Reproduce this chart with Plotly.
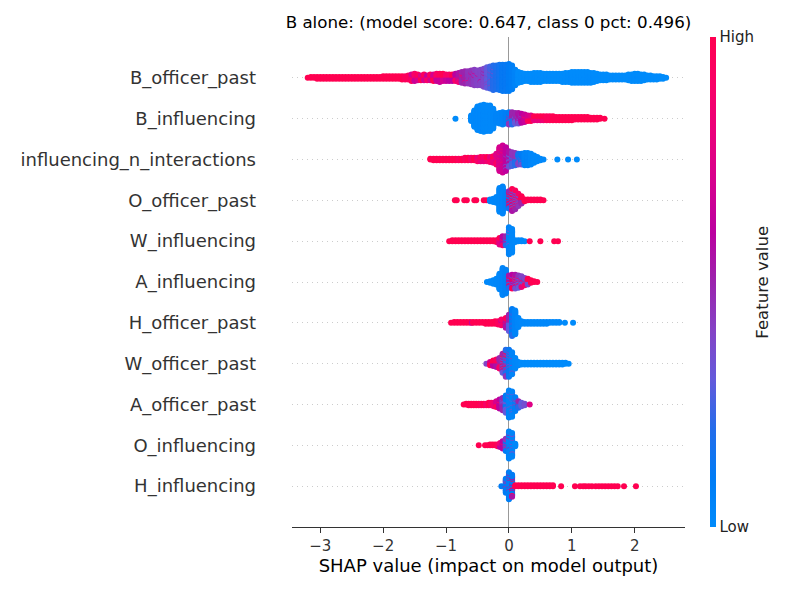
import math
import plotly.graph_objects as go

# SHAP beeswarm.
# each row: (shap value, number of points at that value, feature value 0=low .. 1=high)
FEATURES = ["B_officer_past", "B_influencing", "influencing_n_interactions", "O_officer_past",
            "W_influencing", "A_influencing", "H_officer_past", "W_officer_past",
            "A_officer_past", "O_influencing", "H_influencing"]

B_OFFICER_PAST = [
    (-3.20, 1, 1.0), (-3.15, 2, 1.0), (-3.10, 2, 1.0), (-3.05, 3, 1.0), (-3.00, 3, 1.0), (-2.95, 3, 1.0),
    (-2.90, 3, 1.0), (-2.85, 3, 1.0), (-2.80, 3, 1.0), (-2.75, 3, 1.0), (-2.70, 3, 1.0), (-2.65, 3, 1.0),
    (-2.60, 3, 1.0), (-2.55, 3, 1.0), (-2.50, 3, 1.0), (-2.45, 3, 1.0), (-2.40, 3, 1.0), (-2.35, 3, 1.0),
    (-2.30, 3, 1.0), (-2.25, 3, 1.0), (-2.20, 3, 1.0), (-2.15, 3, 1.0), (-2.10, 3, 1.0), (-2.05, 3, 1.0),
    (-2.00, 4, 1.0), (-1.95, 4, 1.0), (-1.90, 4, 1.0), (-1.85, 4, 1.0), (-1.80, 4, 1.0), (-1.75, 4, 1.0),
    (-1.70, 5, 1.0), (-1.65, 5, 0.95), (-1.60, 6, 0.95),
    (-1.55, 6, 0.95), (-1.55, 3, 0.7), (-1.50, 6, 0.9), (-1.50, 4, 0.65), (-1.45, 5, 0.95), (-1.45, 3, 0.7),
    (-1.40, 5, 1.0), (-1.40, 2, 0.75), (-1.35, 5, 0.95), (-1.35, 3, 0.7), (-1.30, 4, 0.9), (-1.30, 3, 0.65),
    (-1.25, 5, 0.95), (-1.25, 3, 0.7), (-1.20, 5, 1.0), (-1.20, 4, 0.7), (-1.15, 5, 0.9), (-1.15, 5, 0.65),
    (-1.10, 5, 0.95), (-1.10, 6, 0.65), (-1.05, 5, 1.0), (-1.05, 5, 0.7), (-1.00, 4, 0.9), (-1.00, 5, 0.65),
    (-0.95, 4, 0.9), (-0.95, 5, 0.6), (-0.90, 4, 1.0), (-0.90, 5, 0.6), (-0.85, 4, 0.9), (-0.85, 6, 0.6),
    (-0.80, 3, 0.85), (-0.80, 9, 0.55), (-0.75, 3, 0.85), (-0.75, 11, 0.5), (-0.70, 2, 0.8), (-0.70, 14, 0.5),
    (-0.65, 2, 0.8), (-0.65, 14, 0.45), (-0.60, 2, 0.7), (-0.60, 16, 0.45), (-0.55, 2, 0.7), (-0.55, 18, 0.42),
    (-0.50, 1, 0.7), (-0.50, 18, 0.4), (-0.45, 1, 0.65), (-0.45, 19, 0.4), (-0.40, 20, 0.38), (-0.40, 3, 0.5),
    (-0.35, 22, 0.3), (-0.35, 4, 0.4), (-0.30, 24, 0.25), (-0.30, 4, 0.4), (-0.25, 28, 0.2), (-0.25, 3, 0.35),
    (-0.20, 30, 0.18), (-0.15, 32, 0.15), (-0.10, 33, 0.12), (-0.05, 33, 0.12), (0.00, 34, 0.1),
    (0.05, 30, 0.08), (0.10, 20, 0.05),
    (0.15, 14, 0.0), (0.20, 12, 0.0), (0.25, 10, 0.0), (0.30, 10, 0.0), (0.35, 11, 0.0), (0.40, 12, 0.0),
    (0.45, 12, 0.0), (0.50, 12, 0.0), (0.55, 10, 0.0), (0.60, 10, 0.0), (0.65, 10, 0.0), (0.70, 10, 0.0),
    (0.75, 10, 0.0), (0.80, 10, 0.0), (0.85, 11, 0.0), (0.90, 12, 0.0), (0.95, 12, 0.0), (1.00, 14, 0.0),
    (1.05, 14, 0.0), (1.10, 14, 0.0), (1.15, 14, 0.0), (1.20, 14, 0.0), (1.25, 14, 0.0), (1.30, 13, 0.0),
    (1.35, 12, 0.0), (1.40, 10, 0.0), (1.45, 8, 0.0), (1.50, 8, 0.0), (1.55, 8, 0.0), (1.60, 6, 0.0),
    (1.65, 6, 0.0), (1.70, 6, 0.0), (1.75, 6, 0.0), (1.80, 6, 0.0), (1.85, 6, 0.0), (1.90, 8, 0.0),
    (1.95, 9, 0.0), (2.00, 10, 0.0), (2.05, 10, 0.0), (2.10, 9, 0.0), (2.15, 8, 0.0), (2.20, 6, 0.0),
    (2.25, 6, 0.0), (2.30, 5, 0.0), (2.35, 5, 0.0), (2.40, 4, 0.0), (2.45, 3, 0.0), (2.50, 1, 0.0),
]

B_INFLUENCING = [
    (-0.85, 1, 0.0),
    (-0.60, 8, 0.02), (-0.55, 21, 0.02), (-0.50, 30, 0.02), (-0.45, 32, 0.02), (-0.40, 34, 0.02),
    (-0.35, 32, 0.02), (-0.30, 32, 0.02), (-0.25, 25, 0.03), (-0.20, 12, 0.05), (-0.15, 14, 0.05),
    (-0.10, 16, 0.06), (-0.05, 14, 0.08),
    (0.00, 10, 0.1), (0.00, 6, 0.45), (0.05, 8, 0.2), (0.05, 8, 0.5), (0.10, 6, 0.3), (0.10, 8, 0.5),
    (0.15, 4, 0.35), (0.15, 10, 0.55), (0.20, 3, 0.4), (0.20, 9, 0.6), (0.25, 8, 0.65), (0.25, 2, 0.9),
    (0.30, 6, 0.7), (0.30, 2, 0.95), (0.35, 5, 0.75), (0.35, 3, 1.0), (0.40, 3, 0.8), (0.40, 3, 1.0),
    (0.45, 3, 0.8), (0.45, 3, 1.0), (0.50, 2, 0.8), (0.50, 4, 1.0), (0.55, 2, 0.85), (0.55, 4, 1.0),
    (0.60, 6, 0.95), (0.65, 6, 0.95), (0.70, 6, 1.0), (0.75, 5, 1.0), (0.80, 5, 1.0), (0.85, 5, 1.0),
    (0.90, 5, 1.0), (0.95, 5, 1.0), (1.00, 5, 1.0), (1.05, 4, 1.0), (1.10, 4, 1.0), (1.15, 4, 1.0),
    (1.20, 4, 1.0), (1.25, 4, 1.0), (1.30, 3, 1.0), (1.35, 3, 1.0), (1.40, 3, 1.0), (1.45, 2, 1.0),
    (1.52, 1, 1.0),
]

INFLUENCING_N_INTERACTIONS = [
    (-1.25, 2, 1.0), (-1.20, 3, 1.0), (-1.15, 3, 1.0), (-1.10, 3, 1.0), (-1.05, 3, 1.0), (-1.00, 3, 1.0),
    (-0.95, 3, 1.0), (-0.90, 3, 1.0), (-0.85, 3, 1.0), (-0.80, 3, 0.95), (-0.75, 3, 1.0), (-0.70, 4, 0.95),
    (-0.65, 4, 1.0), (-0.60, 4, 0.9), (-0.55, 4, 1.0), (-0.50, 3, 0.9), (-0.50, 2, 0.8), (-0.45, 4, 0.95),
    (-0.45, 2, 0.8), (-0.40, 4, 0.9), (-0.40, 2, 0.8), (-0.35, 3, 1.0), (-0.35, 3, 0.85), (-0.30, 4, 0.9),
    (-0.30, 3, 0.8), (-0.25, 4, 0.95), (-0.25, 5, 0.8), (-0.20, 6, 0.9), (-0.20, 8, 0.75),
    (-0.15, 6, 0.85), (-0.15, 24, 0.7), (-0.10, 4, 0.85), (-0.10, 30, 0.68), (-0.05, 26, 0.62),
    (-0.05, 4, 0.4), (0.00, 12, 0.55), (0.00, 8, 0.35), (0.05, 10, 0.45), (0.05, 8, 0.25),
    (0.10, 8, 0.45), (0.10, 8, 0.2), (0.15, 6, 0.4), (0.15, 8, 0.15), (0.20, 4, 0.35), (0.20, 10, 0.1),
    (0.25, 16, 0.05), (0.30, 16, 0.05), (0.35, 14, 0.03), (0.40, 10, 0.02), (0.45, 6, 0.02),
    (0.50, 3, 0.02), (0.55, 1, 0.02), (0.77, 1, 0.0), (0.94, 1, 0.0), (1.08, 1, 0.0),
]

O_OFFICER_PAST = [
    (-0.86, 1, 1.0), (-0.83, 1, 1.0), (-0.71, 1, 1.0), (-0.67, 1, 1.0), (-0.55, 1, 1.0), (-0.52, 1, 1.0),
    (-0.40, 1, 1.0), (-0.36, 1, 1.0),
    (-0.30, 3, 0.03), (-0.25, 5, 0.03), (-0.20, 8, 0.03), (-0.15, 30, 0.03), (-0.10, 34, 0.04),
    (-0.05, 20, 0.06),
    (0.00, 6, 1.0), (0.00, 8, 0.5), (0.00, 8, 0.15), (0.05, 10, 1.0), (0.05, 10, 0.55), (0.05, 8, 0.3),
    (0.10, 8, 0.95), (0.10, 8, 0.5), (0.10, 8, 0.3), (0.15, 6, 0.9), (0.15, 6, 0.45), (0.15, 4, 0.3),
    (0.20, 5, 1.0), (0.20, 5, 0.5), (0.25, 3, 1.0), (0.30, 2, 1.0), (0.35, 2, 1.0), (0.40, 2, 1.0),
    (0.45, 2, 1.0), (0.50, 2, 1.0), (0.55, 1, 1.0),
]

W_INFLUENCING = [
    (-0.95, 1, 1.0), (-0.90, 2, 1.0), (-0.85, 2, 1.0), (-0.80, 2, 1.0), (-0.75, 2, 1.0), (-0.70, 2, 1.0),
    (-0.65, 2, 1.0), (-0.60, 2, 1.0), (-0.55, 2, 1.0), (-0.50, 2, 1.0), (-0.45, 2, 1.0), (-0.40, 2, 1.0),
    (-0.35, 2, 1.0), (-0.30, 2, 1.0), (-0.25, 2, 1.0), (-0.20, 3, 1.0), (-0.15, 6, 0.75), (-0.15, 3, 1.0),
    (-0.10, 8, 0.6), (-0.10, 4, 0.9), (-0.05, 8, 0.5), (-0.05, 4, 0.2), (0.00, 30, 0.05), (0.00, 4, 0.3),
    (0.05, 30, 0.03), (0.10, 3, 0.02), (0.15, 2, 0.02), (0.20, 2, 0.02), (0.25, 1, 0.02),
    (0.33, 1, 1.0), (0.50, 1, 1.0), (0.72, 1, 1.0), (0.78, 1, 1.0),
]

A_INFLUENCING = [
    (-0.35, 1, 0.02), (-0.30, 3, 0.02), (-0.25, 5, 0.02), (-0.20, 8, 0.03), (-0.15, 20, 0.03),
    (-0.10, 34, 0.04), (-0.05, 30, 0.06),
    (0.00, 6, 0.55), (0.00, 4, 1.0), (0.00, 6, 0.2), (0.05, 8, 0.6), (0.05, 5, 1.0), (0.05, 5, 0.3),
    (0.10, 7, 0.55), (0.10, 5, 0.95), (0.10, 6, 0.35), (0.15, 6, 0.45), (0.15, 4, 0.9), (0.15, 6, 0.3),
    (0.20, 6, 0.4), (0.20, 4, 0.8), (0.20, 4, 0.25), (0.25, 5, 0.4), (0.25, 3, 0.9), (0.25, 2, 0.2),
    (0.30, 4, 0.35), (0.30, 4, 1.0), (0.35, 4, 1.0), (0.40, 2, 1.0), (0.45, 1, 1.0),
]

H_OFFICER_PAST = [
    (-0.92, 1, 1.0), (-0.87, 2, 1.0), (-0.82, 2, 1.0), (-0.77, 2, 1.0), (-0.72, 2, 1.0), (-0.67, 2, 1.0),
    (-0.62, 2, 1.0), (-0.59, 1, 0.65), (-0.57, 2, 1.0), (-0.52, 2, 1.0), (-0.47, 2, 1.0), (-0.42, 2, 1.0),
    (-0.37, 3, 1.0), (-0.32, 3, 1.0), (-0.27, 3, 1.0), (-0.22, 4, 1.0), (-0.17, 5, 0.95),
    (-0.12, 6, 0.9), (-0.12, 2, 0.6), (-0.05, 5, 0.95), (-0.05, 8, 0.55), (0.00, 10, 0.5),
    (0.00, 11, 0.3), (0.05, 14, 0.2), (0.05, 20, 0.1), (0.10, 30, 0.05), (0.15, 12, 0.03),
    (0.20, 4, 0.02), (0.25, 3, 0.02), (0.30, 3, 0.02), (0.35, 3, 0.02), (0.40, 3, 0.02), (0.45, 3, 0.02),
    (0.50, 3, 0.02), (0.55, 3, 0.02), (0.60, 3, 0.02), (0.65, 2, 0.02), (0.70, 2, 0.02), (0.75, 2, 0.02),
    (0.80, 2, 0.02), (0.89, 1, 0.0), (1.02, 1, 0.0),
]

W_OFFICER_PAST = [
    (-0.36, 1, 0.4), (-0.30, 3, 1.0), (-0.30, 2, 0.7), (-0.25, 4, 1.0), (-0.25, 4, 0.6), (-0.20, 5, 0.95),
    (-0.20, 5, 0.55), (-0.15, 6, 0.9), (-0.15, 8, 0.5), (-0.10, 6, 1.0), (-0.10, 10, 0.5), (-0.10, 8, 0.3),
    (-0.05, 4, 1.0), (-0.05, 14, 0.45), (-0.05, 16, 0.2), (0.00, 6, 0.4), (0.00, 28, 0.12),
    (0.05, 4, 0.4), (0.05, 24, 0.05), (0.10, 14, 0.03), (0.15, 5, 0.02),
    (0.20, 3, 0.0), (0.25, 3, 0.0), (0.30, 3, 0.0), (0.35, 3, 0.0), (0.40, 3, 0.0), (0.45, 3, 0.0),
    (0.50, 3, 0.0), (0.55, 3, 0.0), (0.60, 3, 0.0), (0.65, 3, 0.0), (0.70, 3, 0.0), (0.75, 3, 0.0),
    (0.80, 3, 0.0), (0.85, 3, 0.0), (0.90, 2, 0.0), (0.95, 1, 0.0),
]

A_OFFICER_PAST = [
    (-0.72, 1, 1.0), (-0.68, 2, 1.0), (-0.64, 3, 1.0), (-0.60, 3, 1.0), (-0.56, 3, 1.0), (-0.52, 3, 1.0),
    (-0.48, 3, 1.0), (-0.44, 3, 0.95), (-0.40, 3, 1.0), (-0.36, 3, 0.9), (-0.32, 4, 1.0), (-0.28, 4, 0.9),
    (-0.24, 5, 0.85), (-0.20, 5, 0.7), (-0.20, 3, 0.95), (-0.15, 10, 0.6), (-0.15, 2, 0.9),
    (-0.10, 12, 0.5), (-0.10, 4, 0.3), (-0.05, 10, 0.3), (-0.05, 12, 0.1), (0.00, 30, 0.05),
    (0.00, 4, 0.35), (0.05, 26, 0.05), (0.05, 6, 0.3), (0.10, 14, 0.08), (0.10, 4, 0.4),
    (0.15, 6, 0.2), (0.15, 3, 0.5), (0.20, 5, 0.3), (0.25, 3, 0.35), (0.33, 1, 0.75),
]

O_INFLUENCING = [
    (-0.48, 1, 1.0), (-0.38, 1, 1.0), (-0.34, 1, 1.0), (-0.30, 2, 1.0), (-0.26, 2, 1.0), (-0.22, 2, 1.0),
    (-0.18, 3, 0.95), (-0.14, 4, 0.85), (-0.14, 2, 0.6), (-0.10, 8, 0.6), (-0.10, 2, 0.9),
    (-0.05, 10, 0.45), (-0.05, 6, 0.1), (0.00, 30, 0.05), (0.00, 4, 0.5), (0.05, 24, 0.05),
    (0.05, 6, 0.35), (0.10, 4, 0.03),
]

H_INFLUENCING = [
    (-0.12, 1, 0.1), (-0.05, 14, 0.1), (-0.05, 4, 0.45), (0.00, 28, 0.08), (0.00, 6, 0.5),
    (0.05, 18, 0.1), (0.05, 6, 0.55), (0.05, 4, 1.0),
    (0.10, 2, 1.0), (0.15, 2, 1.0), (0.20, 2, 1.0), (0.25, 2, 1.0), (0.30, 2, 1.0), (0.35, 2, 1.0),
    (0.40, 2, 1.0), (0.45, 2, 1.0), (0.50, 2, 1.0), (0.55, 2, 1.0), (0.60, 2, 1.0), (0.65, 2, 1.0),
    (0.70, 2, 1.0), (0.83, 1, 1.0), (1.05, 1, 1.0), (1.13, 1, 1.0), (1.18, 1, 1.0), (1.22, 1, 1.0),
    (1.27, 1, 1.0), (1.32, 1, 1.0), (1.38, 1, 1.0), (1.43, 1, 1.0), (1.48, 1, 1.0), (1.53, 1, 1.0),
    (1.58, 1, 1.0), (1.63, 1, 1.0), (1.68, 1, 1.0), (1.73, 1, 1.0), (1.83, 1, 1.0), (2.02, 1, 1.0),
]

ROWS = [B_OFFICER_PAST, B_INFLUENCING, INFLUENCING_N_INTERACTIONS, O_OFFICER_PAST, W_INFLUENCING,
        A_INFLUENCING, H_OFFICER_PAST, W_OFFICER_PAST, A_OFFICER_PAST, O_INFLUENCING, H_INFLUENCING]

TITLE = "B alone: (model score: 0.647, class 0 pct: 0.496)"


def lch_to_rgb(l, c, h):
    # same red-blue map shap uses (interpolated in LCH)
    a, b = c * math.cos(h), c * math.sin(h)
    fy = (l + 16) / 116
    fx, fz = fy + a / 500, fy - b / 200

    def finv(t):
        return t ** 3 if t > 6 / 29 else 3 * (6 / 29) ** 2 * (t - 4 / 29)

    x, y, z = 0.95047 * finv(fx), finv(fy), 1.08883 * finv(fz)
    lin = (3.2406 * x - 1.5372 * y - 0.4986 * z,
           -0.9689 * x + 1.8758 * y + 0.0415 * z,
           0.0557 * x - 0.2040 * y + 1.0570 * z)

    def gamma(u):
        u = min(max(u, 0.0), 1.0)
        return 1.055 * u ** (1 / 2.4) - 0.055 if u > 0.0031308 else 12.92 * u

    return "rgb(%d,%d,%d)" % tuple(round(255 * gamma(u)) for u in lin)


def red_blue(steps=11):
    scale = []
    for i in range(steps):
        t = i / (steps - 1)
        l = 54 - 28 * t if t <= 0.5 else 40 + 28 * (t - 0.5)
        c = 70 + 20 * t
        h = 4.6588 + (0.35470565 + 2 * math.pi - 4.6588) * t
        scale.append([t, lch_to_rgb(l, c, h)])
    return scale


def beeswarm(bins, row, row_height=0.4):
    # stack points that share a shap value alternately above/below the row line
    groups = {}
    for shap_val, count, feat_val in bins:
        groups.setdefault(shap_val, []).append((count, feat_val))
    xs, offs, cs = [], [], []
    for shap_val, parts in groups.items():
        stack = sorted(((j + 0.5) / n, v) for n, v in parts for j in range(n))
        for layer, (_, v) in enumerate(stack):
            xs.append(shap_val)
            offs.append(math.ceil(layer / 2) * ((layer % 2) * 2 - 1))
            cs.append(v)
    k = 0.9 * row_height / max(o + 1 for o in offs)
    return xs, [row + o * k for o in offs], cs


all_x, all_y, all_c = [], [], []
n_rows = len(FEATURES)
for i, bins in enumerate(ROWS):
    xs, ys, cs = beeswarm(bins, n_rows - 1 - i)
    all_x += xs
    all_y += ys
    all_c += cs

fig = go.Figure(go.Scatter(
    x=all_x, y=all_y, mode="markers", hoverinfo="skip",
    marker=dict(
        size=6, color=all_c, colorscale=red_blue(), cmin=0, cmax=1, line=dict(width=0),
        showscale=True,
        colorbar=dict(
            x=1.0625, xanchor="left", xpad=0, y=0.5, yanchor="middle", ypad=0, len=1, thickness=6,
            outlinewidth=0, tickvals=[0, 1], ticktext=["Low", "High"], ticks="",
            tickfont=dict(size=15, color="#222222"),
        ),
    ),
))

# page body has an 8px margin, so the figure is 8px smaller and the margins shifted
fig.update_layout(
    width=792, height=582,
    margin=dict(l=277, r=115, t=29, b=63),
    paper_bgcolor="white", plot_bgcolor="white",
    font=dict(family="DejaVu Sans", color="#333333"),
    title=dict(text=TITLE, x=0.5, xref="paper", xanchor="center", y=1 - 14 / 582, yanchor="middle",
               font=dict(size=16.7, color="black")),
    showlegend=False,
    annotations=[dict(text="Feature value", textangle=-90, xref="paper", yref="paper",
                      x=(763 - 285) / 400, y=0.5, xanchor="center", yanchor="middle", showarrow=False,
                      font=dict(size=16.5, color="#222222"))],
)
fig.update_xaxes(
    range=[-3.45, 2.8], tickvals=[-3, -2, -1, 0, 1, 2], ticks="outside", ticklen=5, tickwidth=1,
    tickcolor="#333333", showline=True, linecolor="#333333", linewidth=1, showgrid=False,
    zeroline=True, zerolinecolor="#999999", zerolinewidth=1.4, tickfont=dict(size=15),
    title=dict(text="SHAP value (impact on model output)", font=dict(size=18, color="black"), standoff=3),
)
fig.update_yaxes(
    range=[-1, n_rows], tickvals=list(range(n_rows)), ticktext=FEATURES[::-1], ticks="",
    ticklabelstandoff=35, tickfont=dict(size=18), showline=False, zeroline=False,
    showgrid=True, gridcolor="#cccccc", gridwidth=0.7, griddash="1px,4px",
)

fig.write_html("out.html")
